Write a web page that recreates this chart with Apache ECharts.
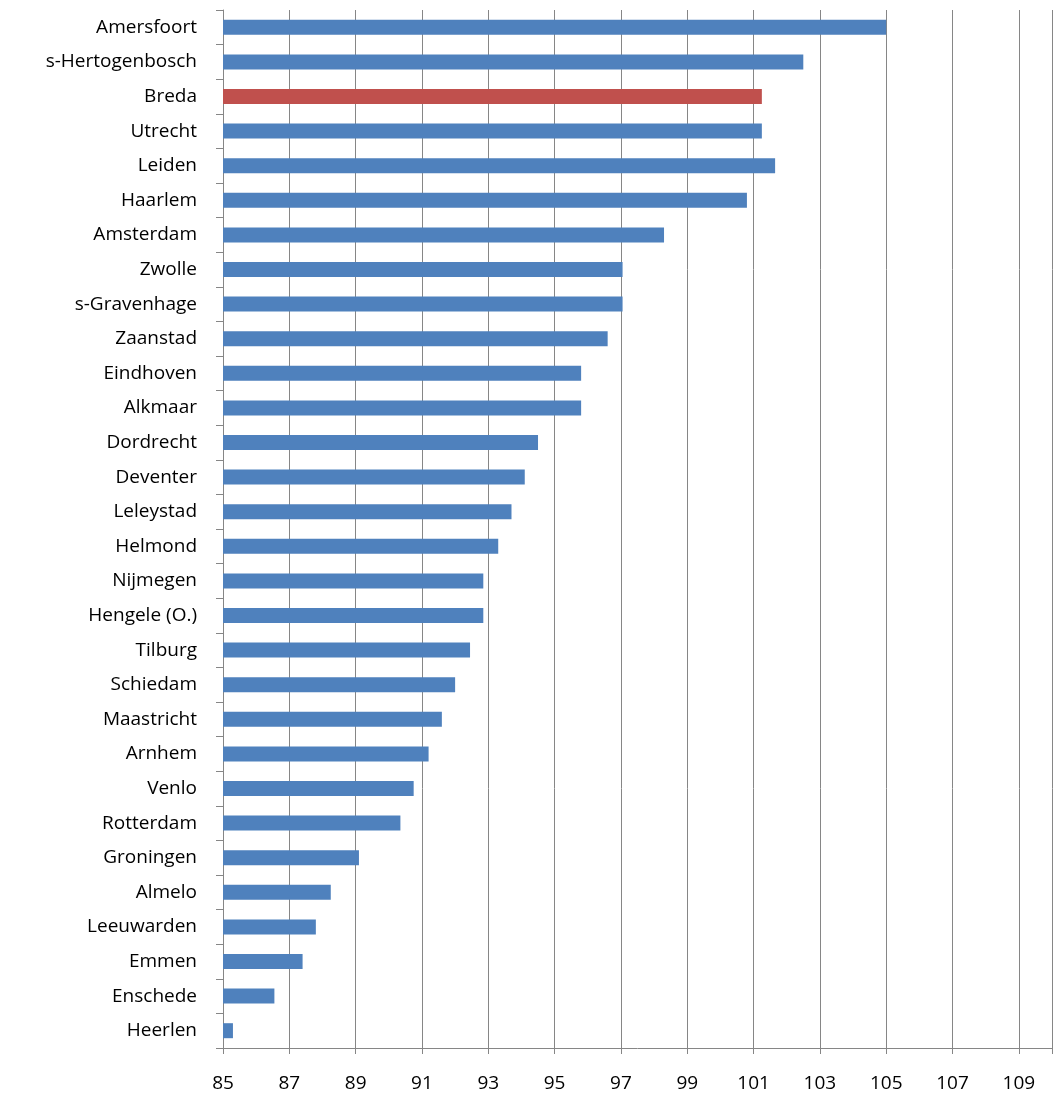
<!DOCTYPE html>
<html><head><meta charset="utf-8">
<script src="https://cdn.jsdelivr.net/npm/echarts@6/dist/echarts.min.js"></script>
<style>html,body{margin:0;background:#fff}#container{width:1055px;height:1102px}</style>
</head><body><div id="container"></div>
<script>
var cities = ['Amersfoort','s-Hertogenbosch','Breda','Utrecht','Leiden','Haarlem','Amsterdam','Zwolle','s-Gravenhage','Zaanstad','Eindhoven','Alkmaar','Dordrecht','Deventer','Leleystad','Helmond','Nijmegen','Hengele (O.)','Tilburg','Schiedam','Maastricht','Arnhem','Venlo','Rotterdam','Groningen','Almelo','Leeuwarden','Emmen','Enschede','Heerlen'];
var values = [105.0,102.5,101.25,101.25,101.65,100.8,98.3,97.05,97.05,96.6,95.8,95.8,94.5,94.1,93.7,93.3,92.85,92.85,92.45,92.0,91.6,91.2,90.75,90.35,89.1,88.25,87.8,87.4,86.55,85.3];
var highlight = 'Breda';

var myChart = echarts.init(document.getElementById('container'));
var option = {
    animation: false,
    grid: { left: 223, right: 0, top: 10, bottom: 54 },
    xAxis: {
        type: 'value', min: 85, max: 110, interval: 2,
        axisLine: { show: true, lineStyle: { color: '#868686' } },
        axisTick: { show: true, length: 6, lineStyle: { color: '#868686' } },
        splitLine: { show: true, lineStyle: { color: '#868686', width: 1 } },
        axisLabel: {
            color: '#000', fontSize: 19, fontFamily: 'Open Sans', margin: 26,
            formatter: function (v) { return v > 109 ? '' : v; }
        }
    },
    yAxis: {
        type: 'category', inverse: true, data: cities,
        axisLine: { lineStyle: { color: '#868686' } },
        axisTick: { show: true, length: 7, alignWithLabel: false, lineStyle: { color: '#868686' } },
        axisLabel: { color: '#000', fontSize: 19, fontFamily: 'Open Sans', margin: 26 }
    },
    series: [{
        type: 'bar', barWidth: 15,
        data: values.map(function (v, i) {
            return { value: v, itemStyle: { color: cities[i] === highlight ? '#c0504d' : '#4f81bd' } };
        })
    }]
};
myChart.setOption(option);
</script></body></html>
